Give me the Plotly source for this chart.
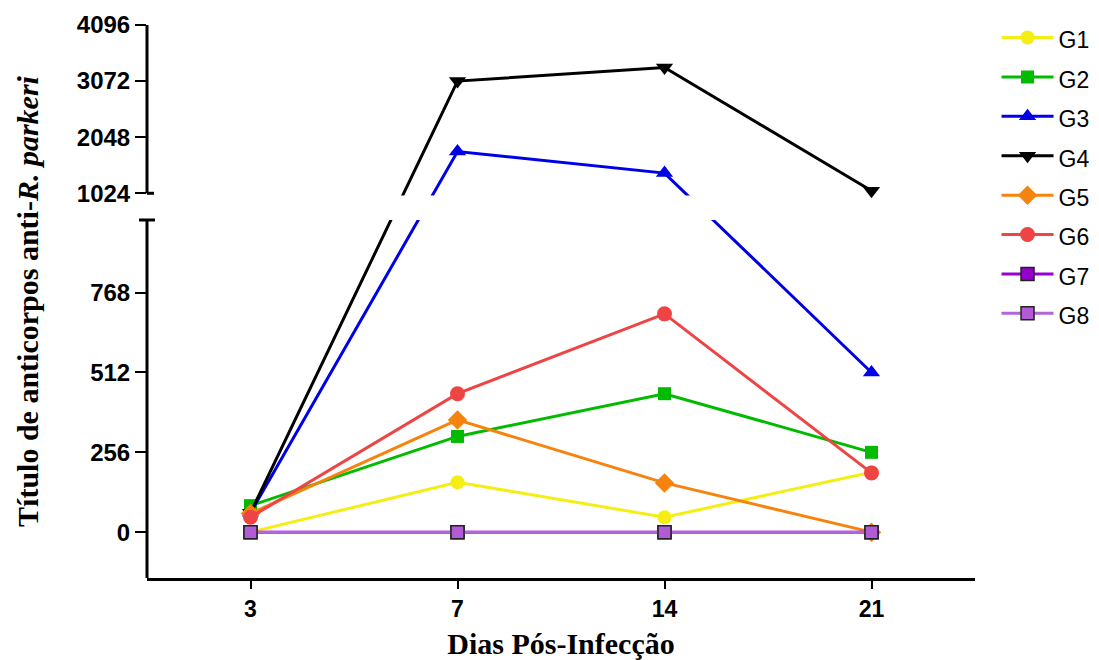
import plotly.graph_objects as go

# ---- data ----
days = ["3", "7", "14", "21"]
G1 = [0, 160, 48, 192]
G2 = [85, 307, 444, 256]
G3 = [62, 1785, 1392, 512]
G4 = [62, 3072, 3320, 1070]
G5 = [60, 360, 158, 0]
G6 = [48, 444, 700, 190]
G7 = [0, 0, 0, 0]
G8 = [0, 0, 0, 0]

lower_ticks = [0, 256, 512, 768]
upper_ticks = [1024, 2048, 3072, 4096]

# ---- broken-axis geometry (two linear segments with a gap) ----
LOW_MIN, LOW_MAX = -147, 1001      # lower segment value range
UP_MIN, UP_MAX = 1024, 4096        # upper segment value range
F_LOW = 0.6474                     # top of lower segment (fraction of plot height)
F_UP = 0.6957                      # bottom of upper segment


def brk(v):
    """Map a value onto the piecewise-linear broken axis (0..1)."""
    if v <= LOW_MAX:
        return (v - LOW_MIN) / (LOW_MAX - LOW_MIN) * F_LOW
    return F_UP + (v - UP_MIN) / (UP_MAX - UP_MIN) * (1 - F_UP)


series = [
    ("G1", G1, "#F5EE14", "circle", 14, "#F5EE14", 0),
    ("G2", G2, "#00BB00", "square", 13, "#00BB00", 0),
    ("G3", G3, "#0000E6", "triangle-up", 15, "#0000E6", 0),
    ("G4", G4, "#000000", "triangle-down", 15, "#000000", 0),
    ("G5", G5, "#F7830F", "diamond", 15, "#F7830F", 0),
    ("G6", G6, "#EE4444", "circle", 15, "#EE4444", 0),
    ("G7", G7, "#9B00D3", "square", 13, "#9400CC", 1.5),
    ("G8", G8, "#B366D9", "square", 13, "#B25BD6", 1.5),
]

fig = go.Figure()
for name, vals, col, sym, size, fill, bw in series:
    fig.add_trace(go.Scatter(
        x=days, y=[brk(v) for v in vals], customdata=vals,
        mode="lines+markers", name=f'<span style="font-size:23px">{name}</span>',
        line=dict(color=col, width=3),
        marker=dict(symbol=sym, size=size, color=fill,
                    line=dict(color="#222222" if bw else fill, width=bw)),
        cliponaxis=False,
        hovertemplate=name + ": %{customdata}<extra></extra>",
    ))

tickvals = [brk(v) for v in lower_ticks + upper_ticks]
ticktext = [str(v) for v in lower_ticks + upper_ticks]

shapes = [
    # white gap of the axis break
    dict(type="rect", xref="paper", yref="paper", x0=0.002, x1=0.85, y0=F_LOW, y1=F_UP - 0.004,
         fillcolor="white", line=dict(width=0), layer="above"),
    # lower axis segment + cap
    dict(type="line", xref="paper", yref="paper", x0=0, x1=0, y0=0, y1=F_LOW,
         line=dict(color="black", width=3), layer="above"),
    dict(type="line", xref="paper", yref="paper", xsizemode="pixel", xanchor=0,
         x0=-8, x1=8, y0=F_LOW, y1=F_LOW, line=dict(color="black", width=3), layer="above"),
    # upper axis segment + cap
    dict(type="line", xref="paper", yref="paper", x0=0, x1=0, y0=F_UP, y1=1,
         line=dict(color="black", width=3), layer="above"),
    dict(type="line", xref="paper", yref="paper", xsizemode="pixel", xanchor=0,
         x0=0, x1=7, y0=F_UP, y1=F_UP, line=dict(color="black", width=3), layer="above"),
]

# the page body adds an 8px offset, so the figure is 8px smaller and margins shifted
fig.update_layout(
    width=1091, height=652,
    margin=dict(l=139, r=124, t=17, b=82, autoexpand=False),
    paper_bgcolor="white", plot_bgcolor="white",
    showlegend=True,
    legend=dict(x=1.026, xanchor="left", y=1.022, yanchor="top", itemwidth=52,
                font=dict(family="Liberation Sans, Arial", size=28, color="black"),
                bgcolor="rgba(0,0,0,0)", tracegroupgap=0),
    shapes=shapes,
    xaxis=dict(type="category", categoryarray=days, range=[-0.5, 3.5], automargin=False,
               showline=True, linecolor="black", linewidth=3,
               ticks="outside", ticklen=8, tickwidth=2, tickcolor="black",
               showgrid=False, zeroline=False,
               tickfont=dict(family="Liberation Sans, Arial", size=23, color="black", weight="bold"),
               title=dict(text="<b>Dias Pós-Infecção</b>", standoff=14,
                          font=dict(family="Liberation Serif, Times New Roman", size=30, color="black"))),
    yaxis=dict(range=[0, 1], showline=False, showgrid=False, zeroline=False, automargin=False,
               tickvals=tickvals, ticktext=ticktext,
               ticks="outside", ticklen=11, tickwidth=2, tickcolor="black",
               tickfont=dict(family="Liberation Sans, Arial", size=24, color="black", weight="bold"),
               title=dict(text="<b>Título de anticorpos anti-<i>R. parkeri</i></b>", standoff=29,
                          font=dict(family="Liberation Serif, Times New Roman", size=30, color="black"))),
)

fig.write_html("out.html")
